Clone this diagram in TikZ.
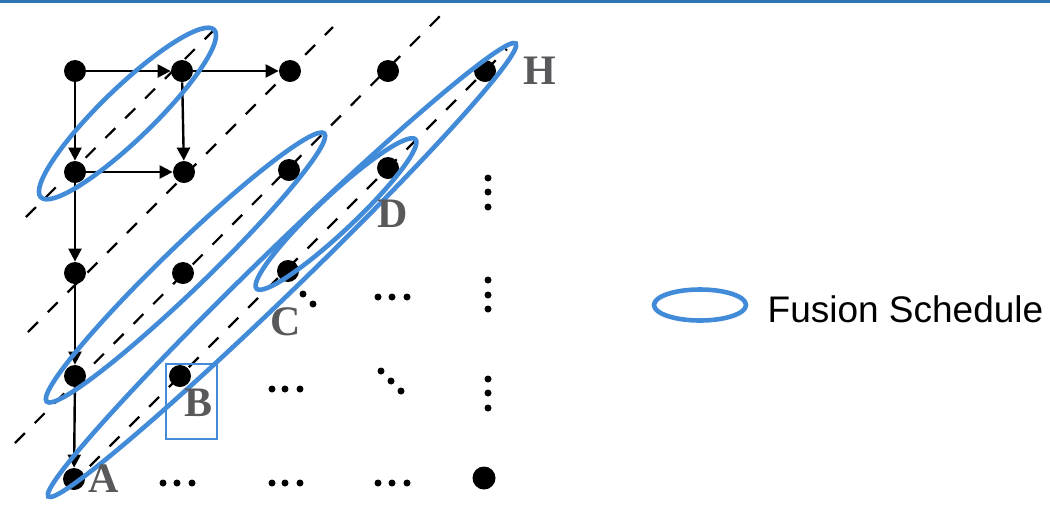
\documentclass[tikz,border=0pt]{standalone}
\usepackage{fontspec}
\setmainfont{Liberation Serif}
\newfontfamily\legendfont{Liberation Sans}
\usetikzlibrary{arrows.meta, positioning, shapes.geometric}

\definecolor{fuseblue}{RGB}{66,139,216}
\definecolor{barblue}{RGB}{46,117,182}
\definecolor{labgray}{RGB}{89,89,91}

\begin{document}
\begin{tikzpicture}[
  x=0.5pt, y=-0.5pt,
  dot/.style={circle, fill=black, inner sep=0pt, minimum size=11pt},
  arr/.style={-{Triangle[length=6.5pt, width=6.5pt]}, line width=1.2pt},
  diag/.style={dash pattern=on 7pt off 7pt, line width=1.1pt},
  fuse/.style={ellipse, draw=fuseblue, line width=2.3pt, inner sep=0pt},
  lab/.style={inner sep=0pt, text=labgray, font=\bfseries\fontsize{21}{21}\selectfont},
  pip/.style={fill=black}
]
  \useasboundingbox (0,0) rectangle (1050,505);
  \fill[barblue] (0,0) rectangle (1050,3);

  % grid of tiles
  \node[dot] (d11) at (75,71) {};
  \node[dot] (d12) at (182,71) {};
  \node[dot] (d13) at (290,71) {};
  \node[dot] (d14) at (388,71) {};
  \node[dot] (d15) at (485,71) {};
  \node[dot] (d21) at (75,172) {};
  \node[dot] (d22) at (184,172) {};
  \node[dot] (d23) at (289,170) {};
  \node[dot] (d24) at (388,168) {};
  \node[dot] (d31) at (75,273) {};
  \node[dot] (d32) at (183,273) {};
  \node[dot] (d33) at (288,271) {};
  \node[dot] (d41) at (75,376) {};
  \node[dot] (d42) at (180,376) {};
  \node[dot] (d51) at (74,479) {};
  \node[dot, minimum size=11.5pt] (d55) at (484,478) {};

  % ellipsis marks
  \foreach \x/\y in {488/178, 488/192, 488/207, 303/294, 313/304,
                     378/297, 392/297, 407/297, 488/280, 488/295, 488/309,
                     272/389, 285/389, 300/389, 381/371, 391/381, 401/391,
                     488/379, 488/393, 488/408, 163/483, 177/483, 192/483,
                     272/483, 285/483, 300/483, 378/483, 392/483, 407/483}
    \fill[pip] (\x,\y) circle (1.75pt);

  \draw[arr] (d11) -- (d12);
  \draw[arr] (d12) -- (d13);
  \draw[arr] (d11) -- (d21);
  \draw[arr] (d12) -- (d22);
  \draw[arr] (d21) -- (d22);
  \draw[arr] (d21) -- (d31);
  \draw[arr] (d31) -- (d41);
  \draw[arr] (d41) -- (d51);

  % wavefronts
  \draw[diag] (26,217) -- (217,27);
  \draw[diag] (28,332) -- (333,27);
  \draw[diag] (15,443) -- (448,8);
  \draw[diag] (70,486) -- (507,49);

  \node[fuse, rotate=44, minimum width=120.5pt, minimum height=26pt] (f1) at (127.5,113.5) {};
  \node[fuse, rotate=44, minimum width=193pt, minimum height=22pt] (f2) at (185.5,267.5) {};
  \node[fuse, rotate=44.1, minimum width=325.5pt, minimum height=22pt] (f3) at (282,270) {};
  \node[fuse, rotate=43.2, minimum width=109pt, minimum height=18pt] (f4) at (336,214) {};

  \node[draw=fuseblue, line width=0.75pt, inner sep=0pt,
        minimum width=25.5pt, minimum height=37.5pt] (bbox) at (191.5,401.5) {};

  \node[lab, right=13.5pt of d15] (hlab) {H};
  \node[lab, below=10pt of d24, xshift=2.5pt] (dlab) {D};
  \node[lab, below=12.5pt of d33, xshift=-1pt] (clab) {C};
  \node[lab] (blab) at (199,403) {B};
  \node[lab, right=1.5pt of d51] (alab) {A};

  % legend
  \node[fuse, minimum width=46pt, minimum height=15.5pt] (lgd) at (700,305) {};
  \node[inner sep=0pt, right=9.5pt of lgd, yshift=-2pt,
        font=\legendfont\fontsize{18.5}{18.5}\selectfont] (lgdtxt) {Fusion Schedule};
\end{tikzpicture}
\end{document}
